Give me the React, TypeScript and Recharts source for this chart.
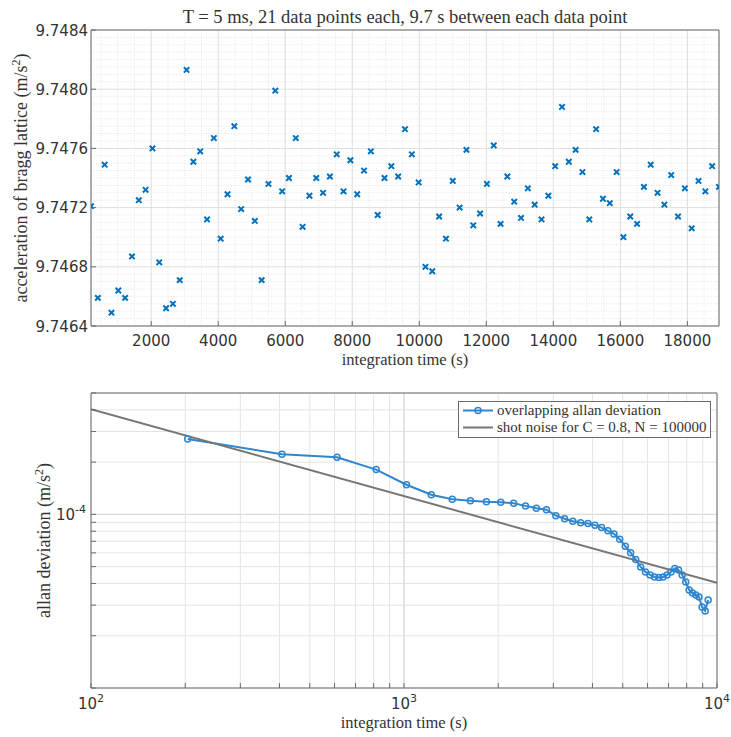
import React from 'react';
import {
  ScatterChart,
  Scatter,
  ComposedChart,
  Line,
  XAxis,
  YAxis,
  CartesianGrid,
  ReferenceLine,
  Legend,
} from 'recharts';

// one bin = 21 shots taken 9.7 s apart
const BIN_SECONDS = 21 * 9.7;

// mean bragg lattice acceleration of every bin (m/s^2)
const accel = [
  9.74721, 9.74659, 9.74749, 9.74649, 9.74664, 9.74659, 9.74687, 9.74725, 9.74732, 9.7476,
  9.74683, 9.74652, 9.74655, 9.74671, 9.74813, 9.74751, 9.74758, 9.74712, 9.74767, 9.74699,
  9.74729, 9.74775, 9.74719, 9.74739, 9.74711, 9.74671, 9.74736, 9.74799, 9.74731, 9.7474,
  9.74767, 9.74707, 9.74728, 9.7474, 9.7473, 9.74741, 9.74756, 9.74731, 9.74752, 9.74729,
  9.74745, 9.74758, 9.74715, 9.7474, 9.74748, 9.74741, 9.74773, 9.74756, 9.74737, 9.7468,
  9.74677, 9.74714, 9.74699, 9.74738, 9.7472, 9.74759, 9.74708, 9.74716, 9.74736, 9.74762,
  9.74709, 9.74741, 9.74724, 9.74713, 9.74733, 9.74722, 9.74712, 9.74728, 9.74748, 9.74788,
  9.74751, 9.74759, 9.74744, 9.74712, 9.74773, 9.74726, 9.74723, 9.74744, 9.747, 9.74714,
  9.74709, 9.74734, 9.74749, 9.7473, 9.74722, 9.74742, 9.74714, 9.74733, 9.74706, 9.74738,
  9.74731, 9.74748, 9.74734,
];

// overlapping allan deviation for averaging factors m = 1..46 (m/s^2)
const allanDev = [
  2.719e-4, 2.219e-4, 2.132e-4, 1.811e-4, 1.481e-4, 1.297e-4, 1.222e-4, 1.198e-4, 1.182e-4, 1.176e-4,
  1.159e-4, 1.119e-4, 1.084e-4, 1.063e-4, 0.983e-4, 0.943e-4, 0.913e-4, 0.896e-4, 0.886e-4, 0.867e-4,
  0.839e-4, 0.804e-4, 0.772e-4, 0.719e-4, 0.655e-4, 0.602e-4, 0.549e-4, 0.498e-4, 0.466e-4, 0.448e-4,
  0.436e-4, 0.433e-4, 0.436e-4, 0.448e-4, 0.466e-4, 0.488e-4, 0.478e-4, 0.448e-4, 0.408e-4, 0.367e-4,
  0.352e-4, 0.343e-4, 0.334e-4, 0.293e-4, 0.278e-4, 0.321e-4,
];

// shot noise limit, a straight tau^-1/2 line across the plotted range
const shotNoiseTau = [100, 10000];
const shotNoiseDev = [4.03e-4, 4.03e-5];

const accelTicks = [9.7464, 9.7468, 9.7472, 9.7476, 9.748, 9.7484];
const timeTicks = [2000, 4000, 6000, 8000, 10000, 12000, 14000, 16000, 18000];
const tauTicks = [
  100, 200, 300, 400, 500, 600, 700, 800, 900,
  1000, 2000, 3000, 4000, 5000, 6000, 7000, 8000, 9000, 10000,
];
const tauLabels = [100, 1000, 10000];
const devTicks = [1e-5, 2e-5, 3e-5, 4e-5, 5e-5, 6e-5, 7e-5, 8e-5, 9e-5, 1e-4, 2e-4, 3e-4, 4e-4, 5e-4];
const devLabels = [1e-4];

const accelData = accel.map((g, i) => ({ t: (i + 1) * BIN_SECONDS, g }));
const allanData = allanDev.map((dev, i) => ({ tau: (i + 1) * BIN_SECONDS, dev }));
const shotData = shotNoiseTau.map((tau, i) => ({ tau, dev: shotNoiseDev[i] }));

const tFirst = BIN_SECONDS;
const tLast = accel.length * BIN_SECONDS;

// minor grid for the linear plot
const timeMinor: number[] = [];
for (let t = 500; t < tLast; t += 500) if (t % 2000 !== 0) timeMinor.push(t);
const accelMinor: number[] = [];
for (let k = 1; k < 40; k++) if (k % 8 !== 0) accelMinor.push(+(9.7464 + k * 0.00005).toFixed(5));

const SERIF = '"Liberation Serif", "Times New Roman", serif';
const SANS = '"DejaVu Sans", sans-serif';
const INK = '#333333';
const FRAME = '#6a6a6a';
const BLUE = '#0072BD';
const GREY = '#767676';

const XMark = (props: any) => {
  const { cx, cy } = props;
  if (cx == null || cy == null) return null;
  const s = 2.7;
  return (
    <path
      d={`M${cx - s},${cy - s}L${cx + s},${cy + s}M${cx - s},${cy + s}L${cx + s},${cy - s}`}
      stroke={BLUE}
      strokeWidth={2}
      fill="none"
    />
  );
};

const TimeTick = ({ x, y, payload }: any) => (
  <text x={x} y={y + 9} textAnchor="middle" fontFamily={SANS} fontSize={15} fill={INK}>
    {payload.value}
  </text>
);

const AccelTick = ({ x, y, payload }: any) => (
  <text x={x} y={y + 5.5} textAnchor="end" fontFamily={SANS} fontSize={15} fill={INK}>
    {Number(payload.value).toFixed(4)}
  </text>
);

const TauTick = ({ x, y, payload }: any) => {
  if (!tauLabels.includes(payload.value)) return <g />;
  const exp = Math.round(Math.log10(payload.value));
  return (
    <text x={x} y={y + 14} textAnchor="middle" fontFamily={SANS} fontSize={15} fill={INK}>
      <tspan>10</tspan>
      <tspan dy={-7} fontSize={11}>{exp}</tspan>
    </text>
  );
};

const DevTick = ({ x, y, payload }: any) => {
  if (!devLabels.some((v) => Math.abs(v - payload.value) < 1e-12)) return <g />;
  const exp = Math.round(Math.log10(payload.value));
  return (
    <text x={x} y={y + 5.5} textAnchor="end" fontFamily={SANS} fontSize={15} fill={INK}>
      <tspan>10</tspan>
      <tspan dy={-7} fontSize={11}>{exp}</tspan>
    </text>
  );
};

const xTitle = (text: string, dy: number) => (props: any) => {
  const { x, y, width } = props.viewBox;
  return (
    <text x={x + width / 2} y={y + dy} textAnchor="middle" fontFamily={SERIF} fontSize={16.5} fill={INK}>
      {text}
    </text>
  );
};

const yTitle = (text: string, baseX: number) => (props: any) => {
  const { y, height } = props.viewBox;
  const cy = y + height / 2;
  return (
    <text
      x={baseX}
      y={cy}
      transform={`rotate(-90 ${baseX} ${cy})`}
      textAnchor="middle"
      fontFamily={SERIF}
      fontSize={18}
      fill={INK}
    >
      <tspan>{text} (m/s</tspan>
      <tspan dy={-7} fontSize={12}>2</tspan>
      <tspan dy={7}>)</tspan>
    </text>
  );
};

const plotTitle = (props: any) => {
  const { x, width } = props.viewBox;
  return (
    <text x={x + width / 2} y={23} textAnchor="middle" fontFamily={SERIF} fontSize={18.5} fill={INK}>
      T = 5 ms, 21 data points each, 9.7 s between each data point
    </text>
  );
};

const renderLegend = (props: any) => {
  const items = props.payload || [];
  return (
    <svg width={253} height={37}>
      <rect x={0.5} y={0.5} width={252} height={36} fill="#ffffff" stroke={FRAME} />
      {items.map((item: any, i: number) => {
        const y = 9.5 + i * 17;
        return (
          <g key={i}>
            <line x1={5} x2={35} y1={y} y2={y} stroke={item.color} strokeWidth={2} />
            {i === 0 && <circle cx={20} cy={y} r={3} fill="none" stroke={item.color} strokeWidth={1.5} />}
            <text x={39} y={y + 4.5} fontFamily={SERIF} fontSize={15} fill={INK}>
              {item.value}
            </text>
          </g>
        );
      })}
    </svg>
  );
};

export default function App() {
  return (
    <div style={{ position: 'absolute', left: 0, top: 0, width: 731, height: 737, background: '#ffffff' }}>
      {/* acceleration of every bin against time */}
      <ScatterChart width={731} height={372} margin={{ top: 0, right: 0, bottom: 0, left: 0 }}>
        {timeMinor.map((t) => (
          <ReferenceLine key={`tx${t}`} x={t} xAxisId="b" yAxisId="l" stroke="#e6e6e6" strokeDasharray="1 1.5" />
        ))}
        {accelMinor.map((g) => (
          <ReferenceLine key={`gy${g}`} y={g} xAxisId="b" yAxisId="l" stroke="#e6e6e6" strokeDasharray="1 1.5" />
        ))}
        <CartesianGrid xAxisId="b" yAxisId="l" stroke="#dedede" />
        <XAxis
          xAxisId="b"
          type="number"
          dataKey="t"
          domain={[tFirst, tLast]}
          allowDataOverflow
          ticks={timeTicks}
          interval={0}
          height={46}
          stroke={FRAME}
          tickSize={-5}
          tickMargin={16}
          tick={<TimeTick />}
          label={xTitle('integration time (s)', 39)}
        />
        <XAxis
          xAxisId="t"
          orientation="top"
          type="number"
          domain={[tFirst, tLast]}
          allowDataOverflow
          ticks={timeTicks}
          interval={0}
          height={30}
          stroke={FRAME}
          tickSize={-5}
          tick={false}
          label={plotTitle}
        />
        <YAxis
          yAxisId="l"
          type="number"
          dataKey="g"
          domain={[9.7464, 9.7484]}
          allowDataOverflow
          ticks={accelTicks}
          interval={0}
          width={91}
          stroke={FRAME}
          tickSize={-5}
          tickMargin={8}
          tick={<AccelTick />}
          label={yTitle('acceleration of bragg lattice', 27)}
        />
        <YAxis
          yAxisId="r"
          orientation="right"
          type="number"
          domain={[9.7464, 9.7484]}
          allowDataOverflow
          ticks={accelTicks}
          interval={0}
          width={12}
          stroke={FRAME}
          tickSize={-5}
          tick={false}
        />
        <Scatter xAxisId="b" yAxisId="l" data={accelData} shape={XMark} isAnimationActive={false} />
      </ScatterChart>

      {/* allan deviation against averaging time */}
      <ComposedChart width={731} height={365} margin={{ top: 0, right: 0, bottom: 0, left: 0 }}>
        <CartesianGrid xAxisId="b" yAxisId="l" stroke="#e4e4e4" />
        <ReferenceLine x={1000} xAxisId="b" yAxisId="l" stroke="#d8d8d8" />
        <ReferenceLine y={1e-4} xAxisId="b" yAxisId="l" stroke="#d8d8d8" />
        <XAxis
          xAxisId="b"
          type="number"
          dataKey="tau"
          scale="log"
          domain={[100, 10000]}
          allowDataOverflow
          ticks={tauTicks}
          interval={0}
          height={49}
          stroke={FRAME}
          tickSize={-5}
          tickMargin={12}
          tick={<TauTick />}
          label={xTitle('integration time (s)', 40)}
        />
        <XAxis
          xAxisId="t"
          orientation="top"
          type="number"
          scale="log"
          domain={[100, 10000]}
          allowDataOverflow
          ticks={tauTicks}
          interval={0}
          height={21}
          stroke={FRAME}
          tickSize={-5}
          tick={false}
        />
        <YAxis
          yAxisId="l"
          type="number"
          dataKey="dev"
          scale="log"
          domain={[1e-5, 5e-4]}
          allowDataOverflow
          ticks={devTicks}
          interval={0}
          width={91}
          stroke={FRAME}
          tickSize={-5}
          tickMargin={10}
          tick={<DevTick />}
          label={yTitle('allan deviation', 50)}
        />
        <YAxis
          yAxisId="r"
          orientation="right"
          type="number"
          scale="log"
          domain={[1e-5, 5e-4]}
          allowDataOverflow
          ticks={devTicks}
          interval={0}
          width={14}
          stroke={FRAME}
          tickSize={-5}
          tick={false}
        />
        <Legend
          content={renderLegend}
          layout="horizontal"
          align="center"
          verticalAlign="middle"
          wrapperStyle={{ position: 'absolute', left: 458, top: 29, width: 253, height: 37 }}
        />
        <Line
          xAxisId="b"
          yAxisId="l"
          data={allanData}
          dataKey="dev"
          name="overlapping allan deviation"
          stroke="#2f86cf"
          strokeWidth={2}
          dot={{ r: 3, stroke: '#2f86cf', strokeWidth: 1.5, fill: 'none' }}
          isAnimationActive={false}
        />
        <Line
          xAxisId="b"
          yAxisId="l"
          data={shotData}
          dataKey="dev"
          name="shot noise for C = 0.8, N = 100000"
          stroke={GREY}
          strokeWidth={2}
          dot={false}
          isAnimationActive={false}
        />
      </ComposedChart>
    </div>
  );
}
